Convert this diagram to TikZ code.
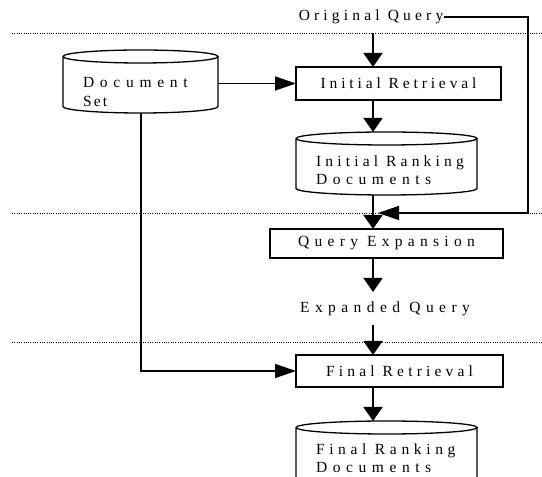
\documentclass[tikz,border=0pt]{standalone}
\usepackage{fontspec}
\setmainfont{Liberation Serif}
\usetikzlibrary{arrows.meta,calc}

% letter-spaced text
\newcommand\lsp[1]{\addfontfeature{LetterSpace=#1}}

% cylinder outline around a (borderless) node
\newcommand\cylinderoutline[1]{%
  \draw[cylframe] let \p1=(#1.north west), \p2=(#1.south east),
      \n1={(\x2-\x1)/2} in
    (\x1,\y1-6.5bp) arc[start angle=180, end angle=-180, x radius=\n1, y radius=6.5bp]
    (\x1,\y1-6.5bp) -- (\x1,\y2+6.5bp)
      arc[start angle=180, end angle=360, x radius=\n1, y radius=6.5bp]
      -- (\x2,\y1-6.5bp);}

\begin{document}
\begin{tikzpicture}[x=1bp,y=1bp,
  every node/.style={inner sep=0pt, outer sep=0pt},
  lbl/.style={font=\fontsize{15.5bp}{18.5bp}\selectfont},
  procbox/.style={draw, line width=1.6bp, lbl},
  cylbody/.style={draw=none},
  cylframe/.style={line width=1.3bp},
  flow/.style={line width=1.6bp, -{Triangle[width=19bp,length=14bp]}},
  sideflow/.style={line width=1.4bp, -{Triangle[width=14bp,length=21bp]}},
  sep/.style={line width=0.8bp, dash pattern=on 1bp off 1.3bp},
]
\clip (0,0) rectangle (542,477);

% stage separators
\draw[sep] (12,443.5) -- (542,443.5);
\draw[sep] (12,264) -- (542,264);
\draw[sep] (12,135) -- (542,135);

% column of the main flow
\coordinate (ax) at (373,0);
\coordinate (dsx) at (141,0);

% query texts
\node[lbl, minimum height=33bp, inner xsep=1bp] (oq) at (371,460) {\lsp{27}Original Query};
\node[lbl, minimum height=33bp] (eq) at (385,168.5) {\lsp{35}Expanded Query};

% processing steps
\node[procbox, minimum width=205bp, minimum height=33bp] (ir) at (398.5,393.5) {\lsp{25}Initial Retrieval};
\node[procbox, minimum width=233bp, minimum height=29bp] (qe) at (386.5,233.5) {\lsp{34}Query Expansion};
\node[procbox, minimum width=207bp, minimum height=32bp] (fr) at (399.5,106) {\lsp{27}Final Retrieval};

% document stores
\node[cylbody, minimum width=155bp, minimum height=63bp] (ds) at (140.5,395.5) {};
\node[cylbody, minimum width=181bp, minimum height=63bp] (ird) at (386.5,313.5) {};
\node[cylbody, minimum width=181bp, minimum height=63bp] (frd) at (386.5,24.5) {};
\cylinderoutline{ds}
\cylinderoutline{ird}
\cylinderoutline{frd}
% labels anchored at the baseline of their second line
\node[lbl, align=left, anchor=base west] (dsl) at (83,370.5) {{\lsp{37}Document}\\\lsp{14}Set};
\node[lbl, align=left, anchor=base west] (irdl) at (316,292) {{\lsp{27}Initial Ranking}\\\lsp{36}Documents};
\node[lbl, align=left, anchor=base west] (frdl) at (316,4) {{\lsp{30}Final Ranking}\\\lsp{36}Documents};

% main flow
\draw[flow] (oq.south -| ax) -- (ir.north -| ax);
\draw[flow] (ir.south -| ax) -- (ird.north -| ax);
\draw[flow] (ird.south -| ax) -- (qe.north -| ax);
\draw[flow] (qe.south -| ax) -- (eq.north -| ax);
\draw[flow] (eq.south -| ax) -- (fr.north -| ax);
\draw[flow] (fr.south -| ax) -- (frd.north -| ax);

% document set feeds both retrievals
\draw[sideflow] (ds.east |- ir.west) -- (ir.west);
\draw[sideflow] (ds.south -| dsx) |- (fr.west);

% original query fed back into the expansion step
\coordinate (fbcorner) at (528,264);
\coordinate (fbtip) at (378,264);
\draw[sideflow] (oq.east) -| (fbcorner) -- (fbtip);
\end{tikzpicture}
\end{document}
